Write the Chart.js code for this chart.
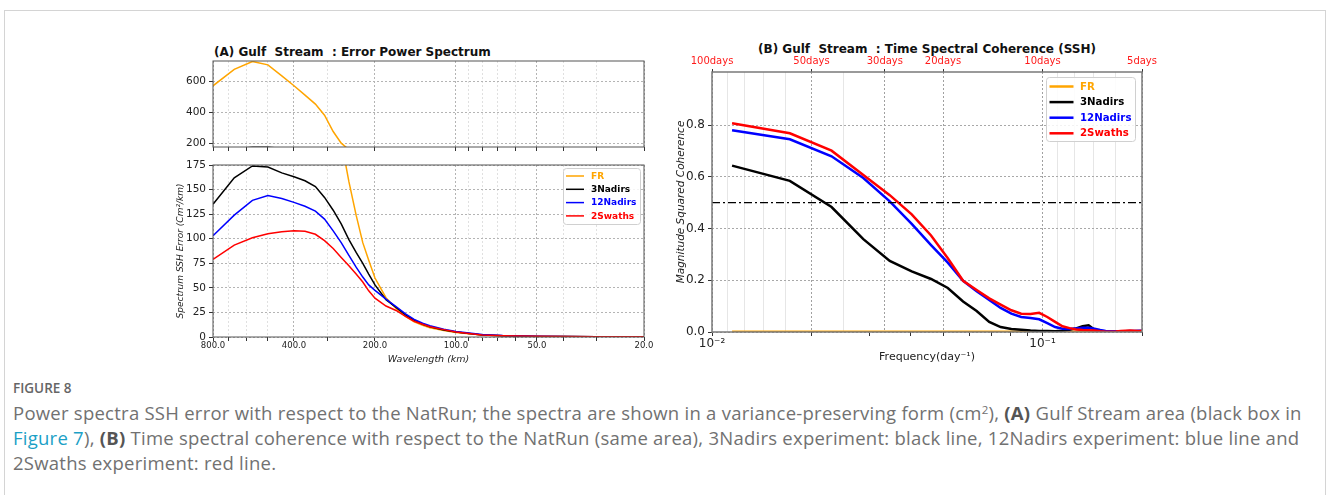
<!DOCTYPE html>
<html>
<head>
<meta charset="utf-8">
<script src="https://cdn.jsdelivr.net/npm/chart.js@4.4.1/dist/chart.umd.min.js"></script>
<style>
  html, body { margin: 0; padding: 0; background: #fff; }
  body { width: 1328px; height: 495px; position: relative; overflow: hidden; font-family: "DejaVu Sans", sans-serif; }
  #frame { position: absolute; left: 4px; top: 10px; width: 1322px; height: 520px; border: 1px solid #d4d4d4; box-sizing: border-box; }
  canvas { position: absolute; }
  .ttl { position: absolute; font: bold 12px "DejaVu Sans", sans-serif; white-space: pre; color: #111; line-height: 14px; }
  #figLabel { position: absolute; left: 13px; top: 380px; font: 600 13.5px "Open Sans", sans-serif; color: #666; line-height: 16px; }
  #caption { position: absolute; left: 13px; top: 400px; font: 18.5px "Open Sans", sans-serif; color: #717171; line-height: 25px; white-space: nowrap; letter-spacing: 0.25px; }
  #caption b { color: #555; }
  #caption sup { font-size: 0.62em; line-height: 0; vertical-align: 0.55em; }
  #caption .ref { color: #1b9fc6; }
</style>
</head>
<body>
<div id="frame"></div>
<div class="ttl" style="left:214px; top:45px;">(A) Gulf  Stream  : Error Power Spectrum</div>
<div class="ttl" style="left:758px; top:42px;">(B) Gulf  Stream  : Time Spectral Coherence (SSH)</div>
<canvas id="upperA" width="500" height="105" style="left:160px; top:50px;"></canvas>
<canvas id="lowerA" width="500" height="215" style="left:160px; top:155px;"></canvas>
<canvas id="panelB" width="495" height="320" style="left:665px; top:50px;"></canvas>
<div id="figLabel">FIGURE 8</div>
<div id="caption">Power spectra SSH error with respect to the NatRun; the spectra are shown in a variance-preserving form (cm<sup>2</sup>), <b>(A)</b> Gulf Stream area (black box in<br><span class="ref">Figure 7</span>), <b>(B)</b> Time spectral coherence with respect to the NatRun (same area), 3Nadirs experiment: black line, 12Nadirs experiment: blue line and<br>2Swaths experiment: red line.</div>
<script>
// ---- panel A: error power spectrum vs wavelength (km) ----
const wavelengthKm = [800, 667, 571, 500, 444, 400, 364, 333, 308, 286, 267, 250, 235, 222, 211, 200, 182, 167, 154, 143, 133, 125, 111, 100, 80, 67, 50, 40, 30, 20];
const errFR       = [570, 676, 727, 705, 634, 570, 510, 452, 380, 275, 200, 158, 124, 96, 78, 60, 40, 29, 21, 15.5, 12, 9.5, 6.5, 4.5, 2, 1.2, 0.6, 0.4, 0.2, 0.1];
const err3Nadirs  = [135, 162, 174, 173, 167, 163, 159, 153, 142, 129, 115, 99, 86, 75, 64, 53, 38, 30, 22.5, 17, 13, 10.5, 7, 5, 2, 1.2, 0.6, 0.4, 0.2, 0.1];
const err12Nadirs = [103, 124, 139, 144, 141, 137, 133, 128, 120, 108, 96, 83, 71, 61, 53, 47.5, 38.5, 31, 23.5, 18, 14, 11.5, 8, 5.5, 2.5, 1.5, 0.8, 0.5, 0.3, 0.2];
const err2Swaths  = [79, 93.5, 101, 105, 107, 108, 107.5, 104.5, 98, 90, 81, 72.5, 64, 56, 47, 39.5, 31.5, 27, 21, 16, 13, 10.5, 7.5, 5, 2, 1.3, 0.8, 0.5, 0.3, 0.2];
const wlMajorTicks = [800, 400, 200, 100, 50, 20];
const wlMinorTicks = [700, 600, 500, 300, 90, 80, 70, 60, 40, 30];
const lowerTicks = [0, 25, 50, 75, 100, 125, 150, 175];
const upperTicks = [200, 400, 600];

// ---- panel B: time spectral coherence vs frequency (1/day) ----
const freqPerDay = [0.0115, 0.0172, 0.0230, 0.0287, 0.0345, 0.0402, 0.0460, 0.0517, 0.0575, 0.0632, 0.0690, 0.0747, 0.0805, 0.0862, 0.0920, 0.0977, 0.1034, 0.1092, 0.1149, 0.1207, 0.1264, 0.1322, 0.1379, 0.1437, 0.1494, 0.1552, 0.1609, 0.1667, 0.1724, 0.1782, 0.1839, 0.1897, 0.1954, 0.2011];
const cohFR       = [0.001, 0.001, 0.001, 0.001, 0.001, 0.001, 0.001, 0.001, 0.001, 0.001, 0.001, 0.001, 0.001, 0.001, 0.001, 0.001, 0.001, 0.001, 0.001, 0.001, 0.001, 0.001, 0.001, 0.001, 0.001, 0.001, 0.001, 0.001, 0.001, 0.001, 0.001, 0.001, 0.001, 0.001];
const coh3Nadirs  = [0.643, 0.584, 0.483, 0.359, 0.275, 0.234, 0.205, 0.170, 0.118, 0.081, 0.039, 0.019, 0.012, 0.009, 0.006, 0.004, 0.004, 0.003, 0.005, 0.009, 0.014, 0.022, 0.026, 0.009, 0.003, 0.002, 0.002, 0.002, 0.002, 0.002, 0.002, 0.002, 0.002, 0.002];
const coh12Nadirs = [0.780, 0.745, 0.679, 0.595, 0.505, 0.418, 0.336, 0.268, 0.198, 0.158, 0.124, 0.093, 0.071, 0.058, 0.054, 0.049, 0.034, 0.019, 0.013, 0.012, 0.014, 0.016, 0.016, 0.013, 0.008, 0.004, 0.003, 0.003, 0.003, 0.003, 0.004, 0.004, 0.005, 0.005];
const coh2Swaths  = [0.807, 0.768, 0.701, 0.607, 0.529, 0.455, 0.373, 0.285, 0.198, 0.162, 0.130, 0.106, 0.084, 0.071, 0.070, 0.074, 0.058, 0.039, 0.022, 0.015, 0.010, 0.008, 0.007, 0.006, 0.003, 0.001, 0.001, 0.002, 0.004, 0.005, 0.006, 0.005, 0.004, 0.005];
const periodMajorDays = [100, 50, 30, 20, 10, 5];
const periodMinorDays = [90, 80, 70, 60, 40, 9, 8, 7, 6];
const freqDecadeTicks = [0.01, 0.02, 0.03, 0.04, 0.05, 0.06, 0.07, 0.08, 0.09, 0.1, 0.2];
const cohTicks = [0, 0.2, 0.4, 0.6, 0.8];
const cohThreshold = 0.5;
const freqMin = 0.01, freqMax = 0.2;

const seriesNames = ["FR", "3Nadirs", "12Nadirs", "2Swaths"];
const seriesColors = ["#ffa500", "#000000", "#0000ff", "#ff0000"];

// ticks in "period" units converted to frequency / wavenumber
function tickList(major, minor) {
    return major.map(d => ({ value: 1 / d, major: true }))
        .concat(minor.map(d => ({ value: 1 / d, major: false })))
        .sort((a, b) => a.value - b.value);
}
const fixWidth = w => s => { s.width = w; s.paddingTop = 0; s.paddingBottom = 0; };
const fixHeight = h => s => { s.height = h; s.paddingLeft = 0; s.paddingRight = 0; };

// box around the plotting area
const framePlugin = {
    id: "frame",
    afterDraw(chart, args, o) {
        const { ctx, chartArea: a } = chart;
        ctx.save();
        ctx.strokeStyle = o.color;
        ctx.lineWidth = o.width;
        ctx.strokeRect(a.left, a.top, a.right - a.left, a.bottom - a.top);
        ctx.restore();
    }
};

// legend drawn inside the plot, upper right
const insetLegend = {
    id: "insetLegend",
    afterDraw(chart, args, o) {
        if (!o.show) return;
        const { ctx, chartArea: a } = chart;
        const items = chart.data.datasets.filter(d => !d.noLegend);
        const x0 = a.right - o.right - o.width;
        const y0 = a.top + o.top;
        ctx.save();
        ctx.beginPath();
        ctx.roundRect(x0 + 0.5, y0 + 0.5, o.width, o.height, 3);
        ctx.fillStyle = "rgba(255,255,255,0.85)";
        ctx.fill();
        ctx.strokeStyle = "#d0d0d0";
        ctx.lineWidth = 1;
        ctx.stroke();
        ctx.font = o.font;
        ctx.textBaseline = "middle";
        items.forEach((d, i) => {
            const y = y0 + o.first + i * o.row;
            ctx.strokeStyle = d.borderColor;
            ctx.lineWidth = d.borderWidth;
            ctx.beginPath();
            ctx.moveTo(x0 + o.lineX, y);
            ctx.lineTo(x0 + o.lineX + o.lineLen, y);
            ctx.stroke();
            ctx.fillStyle = d.borderColor;
            ctx.fillText(d.label, x0 + o.textX, y + 0.5);
        });
        ctx.restore();
    }
};

function leftDatasets() {
    const values = [errFR, err3Nadirs, err12Nadirs, err2Swaths];
    return values.map((v, k) => ({
        label: seriesNames[k],
        data: wavelengthKm.map((w, i) => ({ x: 1 / w, y: v[i] })),
        borderColor: seriesColors[k],
        borderWidth: 1.5,
        order: 4 - k
    }));
}

const wlGrid = {
    color: c => (c.tick && c.tick.major) ? "#b4b4b4" : "#e0e0e0",
    tickColor: "#333", tickLength: 4, tickBorderDash: [], lineWidth: 1
};
const dotted = { display: false, dash: [2, 2] };

function wlAxis(showLabels, height) {
    return {
        type: "logarithmic",
        min: 1 / wavelengthKm[0],
        max: 1 / wavelengthKm[wavelengthKm.length - 1],
        afterBuildTicks: s => { s.ticks = tickList(wlMajorTicks, wlMinorTicks); },
        afterFit: fixHeight(height),
        ticks: {
            display: showLabels, autoSkip: false, maxRotation: 0, padding: 0,
            color: "#222", font: { family: "DejaVu Sans", size: 8.5 },
            callback: (v, i, t) => t[i].major ? (1 / v).toFixed(1) : ""
        },
        grid: wlGrid,
        border: dotted,
        title: {
            display: showLabels, text: "Wavelength (km)", color: "#222",
            font: { family: "DejaVu Sans", size: 9.5, style: "italic" }, padding: { top: 0, bottom: 5 }
        }
    };
}

const common = {
    responsive: false,
    animation: false,
    elements: { point: { radius: 0 }, line: { tension: 0 } }
};

// panel A, upper (broken axis, large values)
new Chart(document.getElementById("upperA"), {
    type: "line",
    data: { datasets: leftDatasets() },
    options: Object.assign({}, common, {
        layout: { padding: { top: 11, right: 16, left: 0, bottom: 0 } },
        plugins: {
            legend: { display: false }, tooltip: { enabled: false },
            frame: { color: "#555", width: 1 },
            insetLegend: { show: false }
        },
        scales: {
            x: wlAxis(false, 8),
            y: {
                min: 175, max: 730,
                afterBuildTicks: s => { s.ticks = upperTicks.map(v => ({ value: v })); },
                afterFit: fixWidth(53),
                ticks: { color: "#222", padding: 3, font: { family: "DejaVu Sans", size: 10.5 } },
                grid: { color: "#b4b4b4", tickColor: "#333", tickLength: 4, tickBorderDash: [] },
                border: dotted
            }
        }
    }),
    plugins: [framePlugin, insetLegend]
});

// panel A, lower
new Chart(document.getElementById("lowerA"), {
    type: "line",
    data: { datasets: leftDatasets() },
    options: Object.assign({}, common, {
        layout: { padding: { top: 10, right: 16, left: 0, bottom: 0 } },
        plugins: {
            legend: { display: false }, tooltip: { enabled: false },
            frame: { color: "#555", width: 1 },
            insetLegend: {
                show: true, right: 4, top: 3, width: 77, height: 56,
                first: 8, row: 13.3, lineX: 3, lineLen: 18, textX: 28,
                font: "bold 9px 'DejaVu Sans'"
            }
        },
        scales: {
            x: wlAxis(true, 33),
            y: {
                min: 0, max: 175,
                afterBuildTicks: s => { s.ticks = lowerTicks.map(v => ({ value: v })); },
                afterFit: fixWidth(53),
                ticks: { color: "#222", padding: 3, font: { family: "DejaVu Sans", size: 10.5 } },
                grid: { color: "#b4b4b4", tickColor: "#333", tickLength: 4, tickBorderDash: [] },
                border: dotted,
                title: {
                    display: true, text: "Spectrum SSH Error (Cm\u00B2/km)", color: "#222",
                    font: { family: "DejaVu Sans", size: 9, style: "italic" }, padding: { top: 15.5, bottom: 0 }
                }
            }
        }
    }),
    plugins: [framePlugin, insetLegend]
});

// panel B
const cohValues = [cohFR, coh3Nadirs, coh12Nadirs, coh2Swaths];
const panelBData = cohValues.map((v, k) => ({
    label: seriesNames[k],
    data: freqPerDay.map((f, i) => ({ x: f, y: v[i] })),
    borderColor: seriesColors[k],
    borderWidth: 2.5,
    order: 4 - k
}));
panelBData.push({
    label: "threshold",
    noLegend: true,
    data: [{ x: freqMin, y: cohThreshold }, { x: freqMax, y: cohThreshold }],
    borderColor: "#000",
    borderWidth: 1.2,
    borderDash: [8, 3, 2, 3],
    order: 0
});

new Chart(document.getElementById("panelB"), {
    type: "line",
    data: { datasets: panelBData },
    options: Object.assign({}, common, {
        layout: { padding: { top: 0, right: 18, left: 0, bottom: 0 } },
        plugins: {
            legend: { display: false }, tooltip: { enabled: false },
            frame: { color: "#7a7a7a", width: 1.5 },
            insetLegend: {
                show: true, right: 7, top: 5, width: 89, height: 64,
                first: 9.5, row: 15.6, lineX: 3.5, lineLen: 24, textX: 34,
                font: "bold 10.2px 'DejaVu Sans'"
            }
        },
        scales: {
            x: {
                type: "logarithmic", position: "bottom", min: freqMin, max: freqMax,
                afterBuildTicks: s => { s.ticks = freqDecadeTicks.map(v => ({ value: v, major: v === 0.01 || v === 0.1 })); },
                afterFit: fixHeight(38),
                ticks: {
                    autoSkip: false, maxRotation: 0, padding: 1, color: "#222",
                    font: { family: "DejaVu Sans", size: 12 },
                    callback: (v, i, t) => v === 0.01 ? "10\u207B\u00B2" : (v === 0.1 ? "10\u207B\u00B9" : "")
                },
                grid: { drawOnChartArea: false, tickColor: "#333", tickLength: 4, tickBorderDash: [] },
                border: { display: false },
                title: {
                    display: true, text: "Frequency(day\u207B\u00B9)", color: "#222",
                    font: { family: "DejaVu Sans", size: 11 }, padding: { top: 0, bottom: 6 }
                }
            },
            x2: {
                type: "logarithmic", axis: "x", position: "top", min: freqMin, max: freqMax,
                afterBuildTicks: s => { s.ticks = tickList(periodMajorDays, periodMinorDays); },
                afterFit: fixHeight(22),
                ticks: {
                    autoSkip: false, maxRotation: 0, padding: 2, color: "#ff1a1a",
                    font: { family: "DejaVu Sans", size: 10 },
                    callback: (v, i, t) => t[i].major ? Math.round(1 / v) + "days" : ""
                },
                grid: {
                    color: c => (c.tick && c.tick.major) ? "#a0a0a0" : "#e6e6e6",
                    tickColor: c => (c.tick && c.tick.major) ? "#333" : "rgba(0,0,0,0)",
                    tickLength: 3, tickBorderDash: []
                },
                border: { display: false, dash: c => (c.tick && c.tick.major) ? [2, 2] : [] }
            },
            y: {
                min: 0, max: 1.005,
                afterBuildTicks: s => { s.ticks = cohTicks.map(v => ({ value: v })); },
                afterFit: fixWidth(47),
                ticks: {
                    color: "#222", padding: 3, font: { family: "DejaVu Sans", size: 12 },
                    callback: v => v.toFixed(1)
                },
                grid: { color: "#a8a8a8", tickColor: "#333", tickLength: 4, tickBorderDash: [] },
                border: { display: false, dash: [2, 2] },
                title: {
                    display: true, text: "Magnitude Squared Coherence", color: "#222",
                    font: { family: "DejaVu Sans", size: 10.5, style: "italic" }, padding: { top: 10, bottom: 0 }
                }
            }
        }
    }),
    plugins: [framePlugin, insetLegend]
});
</script>
</body>
</html>
